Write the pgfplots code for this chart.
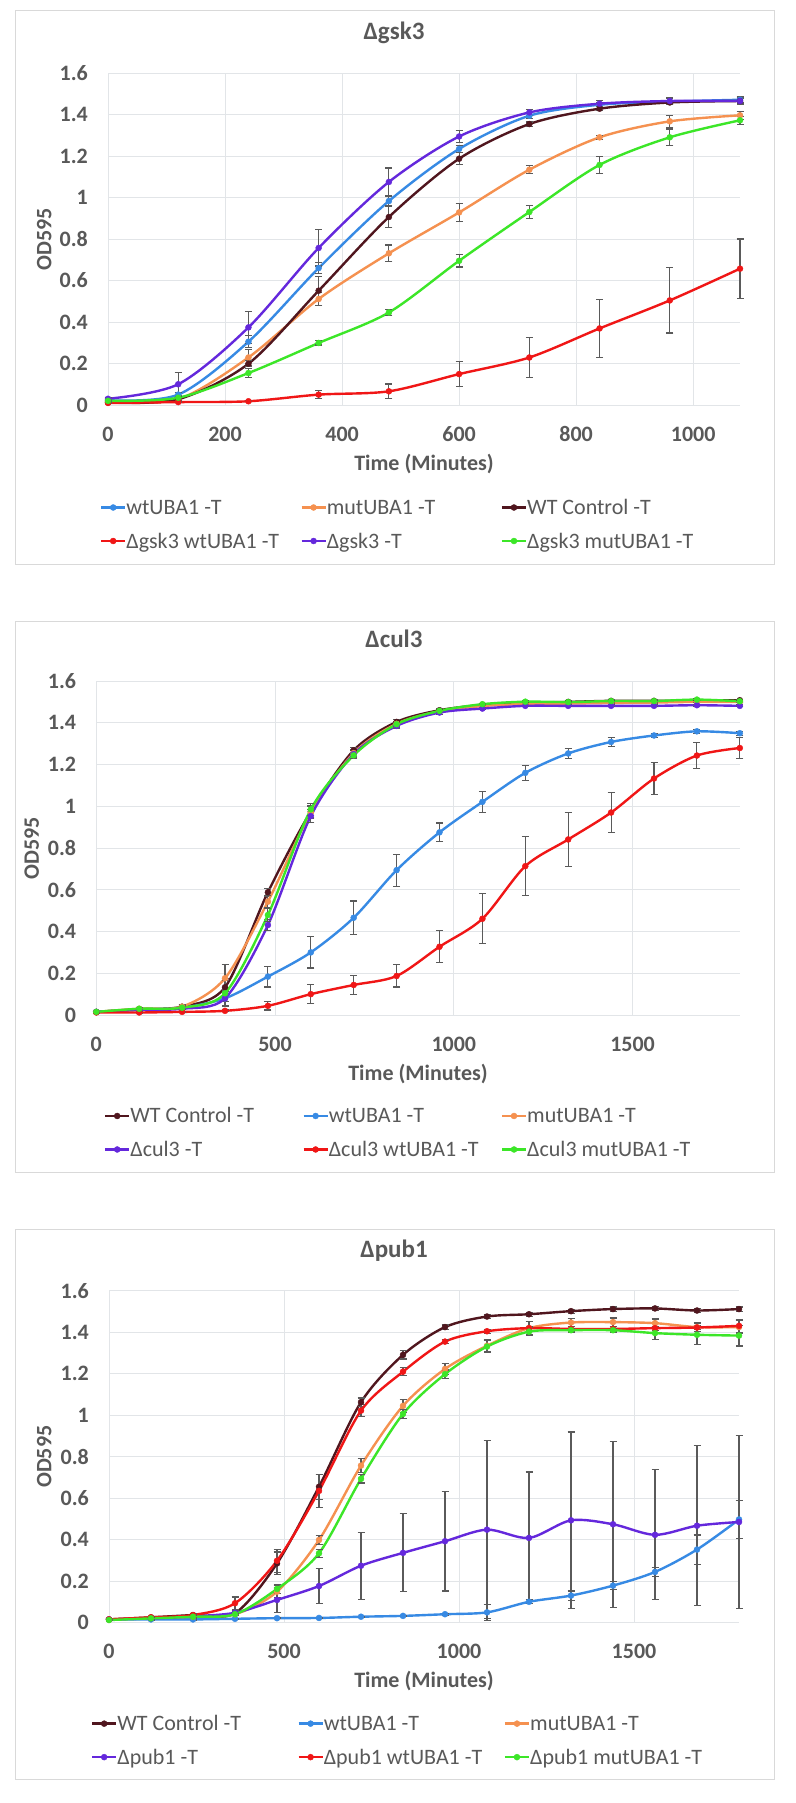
\documentclass[border=0pt]{standalone}
\usepackage{fontspec}
\setmainfont{Carlito}
\usepackage{pgfplots}
\usepackage{pgfplotstable}
\pgfplotsset{compat=1.18}
\definecolor{txt}{RGB}{89,89,89}
\definecolor{gridc}{RGB}{226,229,232}
\definecolor{framec}{RGB}{217,217,217}
\definecolor{errc}{RGB}{90,90,90}
\definecolor{cblue}{RGB}{55,138,228}
\definecolor{corange}{RGB}{245,145,80}
\definecolor{cbrown}{RGB}{80,22,30}
\definecolor{cred}{RGB}{240,22,22}
\definecolor{cpurple}{RGB}{100,40,220}
\definecolor{cgreen}{RGB}{60,230,40}

% Panel 1: dgsk3
\pgfplotstableread{
t wt wte mut mute wtc wtce dwt dwte del dele dmut dmute
0 0.023 0.005 0.015 0.003 0.012 0.003 0.010 0.003 0.030 0.005 0.020 0.003
120 0.050 0.010 0.028 0.005 0.028 0.005 0.014 0.003 0.100 0.055 0.035 0.005
240 0.305 0.030 0.229 0.040 0.199 0.015 0.018 0.003 0.374 0.077 0.154 0.020
360 0.660 0.025 0.511 0.030 0.551 0.070 0.050 0.020 0.757 0.087 0.299 0.010
480 0.983 0.020 0.731 0.040 0.906 0.050 0.066 0.035 1.075 0.067 0.446 0.015
600 1.234 0.015 0.928 0.045 1.187 0.030 0.149 0.060 1.294 0.030 0.695 0.030
720 1.394 0.015 1.134 0.020 1.354 0.010 0.229 0.098 1.410 0.015 0.930 0.030
840 1.447 0.010 1.290 0.010 1.428 0.010 0.369 0.140 1.452 0.015 1.157 0.040
960 1.462 0.015 1.367 0.030 1.458 0.010 0.504 0.157 1.465 0.015 1.290 0.040
1080 1.471 0.015 1.396 0.020 1.465 0.010 0.657 0.143 1.465 0.015 1.372 0.020
}\tabA

% Panel 2: dcul3
\pgfplotstableread{
t wtc wtce wt wte mut mute del dele dwt dwte dmut dmute
0 0.015 0.003 0.015 0.003 0.015 0.003 0.015 0.003 0.012 0.003 0.015 0.003
120 0.028 0.005 0.025 0.005 0.030 0.005 0.025 0.005 0.012 0.003 0.030 0.005
240 0.040 0.008 0.035 0.008 0.040 0.008 0.030 0.005 0.015 0.003 0.035 0.008
360 0.133 0.040 0.080 0.015 0.176 0.064 0.080 0.040 0.020 0.005 0.104 0.060
480 0.588 0.020 0.184 0.050 0.543 0.030 0.431 0.025 0.044 0.020 0.479 0.030
600 0.975 0.030 0.300 0.075 0.970 0.030 0.953 0.030 0.100 0.045 0.985 0.030
720 1.268 0.015 0.466 0.080 1.255 0.015 1.250 0.015 0.144 0.045 1.244 0.015
840 1.404 0.010 0.694 0.077 1.395 0.010 1.385 0.010 0.187 0.053 1.393 0.010
960 1.460 0.008 0.875 0.045 1.455 0.008 1.449 0.008 0.327 0.077 1.457 0.008
1080 1.485 0.005 1.021 0.050 1.480 0.005 1.468 0.005 0.461 0.120 1.489 0.005
1200 1.495 0.005 1.160 0.035 1.490 0.005 1.481 0.005 0.713 0.142 1.501 0.005
1320 1.500 0.005 1.253 0.025 1.492 0.005 1.481 0.005 0.841 0.130 1.499 0.005
1440 1.505 0.005 1.308 0.020 1.495 0.005 1.481 0.005 0.970 0.096 1.504 0.005
1560 1.505 0.005 1.339 0.010 1.497 0.005 1.481 0.005 1.133 0.077 1.504 0.005
1680 1.506 0.005 1.359 0.010 1.500 0.005 1.484 0.005 1.243 0.062 1.511 0.005
1800 1.508 0.005 1.350 0.010 1.500 0.005 1.481 0.005 1.279 0.050 1.503 0.005
}\tabB

% Panel 3: dpub1
\pgfplotstableread{
t wtc wtce wt wte mut mute del dele dwt dwte dmut dmute
0 0.015 0.003 0.015 0.003 0.015 0.003 0.015 0.003 0.015 0.003 0.012 0.003
120 0.025 0.005 0.015 0.003 0.022 0.005 0.020 0.005 0.025 0.005 0.020 0.005
240 0.036 0.005 0.015 0.003 0.028 0.005 0.030 0.005 0.036 0.005 0.028 0.005
360 0.045 0.010 0.018 0.003 0.040 0.005 0.047 0.010 0.093 0.030 0.040 0.005
480 0.285 0.055 0.021 0.003 0.149 0.030 0.109 0.060 0.298 0.055 0.162 0.020
600 0.655 0.060 0.022 0.003 0.398 0.020 0.176 0.085 0.635 0.080 0.334 0.020
720 1.063 0.020 0.028 0.003 0.757 0.035 0.274 0.161 1.022 0.030 0.693 0.020
840 1.291 0.020 0.032 0.003 1.045 0.030 0.336 0.188 1.210 0.020 1.006 0.020
960 1.425 0.010 0.040 0.005 1.223 0.025 0.392 0.240 1.355 0.010 1.198 0.020
1080 1.476 0.010 0.049 0.040 1.335 0.030 0.448 0.430 1.405 0.010 1.331 0.030
1200 1.487 0.010 0.100 0.010 1.420 0.030 0.408 0.318 1.420 0.010 1.403 0.020
1320 1.502 0.010 0.130 0.022 1.447 0.020 0.493 0.426 1.416 0.010 1.410 0.010
1440 1.512 0.010 0.178 0.020 1.449 0.020 0.474 0.400 1.416 0.010 1.410 0.010
1560 1.515 0.010 0.244 0.020 1.444 0.020 0.423 0.314 1.420 0.010 1.396 0.030
1680 1.505 0.010 0.352 0.070 1.425 0.020 0.467 0.386 1.423 0.010 1.388 0.045
1800 1.512 0.010 0.497 0.090 1.425 0.030 0.485 0.418 1.431 0.030 1.384 0.050
}\tabC

\pgfplotsset{
 ser/.style={color=#1, line width=2.4pt, smooth, mark=*, mark size=3pt,
   mark options={solid, fill=#1, line width=0.4pt},
   error bars/.cd, y dir=both, y explicit,
   error bar style={color=errc, line width=1.1pt},
   error mark options={rotate=90, color=errc, line width=1.1pt, mark size=3.5pt}},
 growth/.style={
   scale only axis, clip=false,
   ymin=0, ymax=1.6, ytick={0,0.2,0.4,0.6,0.8,1,1.2,1.4,1.6},
   grid=major, major grid style={draw=gridc, line width=0.9pt},
   axis line style={draw=none}, major tick length=0pt,
   tick label style={font=\fontsize{22}{26}\selectfont\bfseries, text=txt},
   /pgf/number format/assume math mode=true,
   /pgf/number format/1000 sep={},
   xticklabel style={anchor=base, inner sep=0pt, yshift=-36pt},
   yticklabel style={anchor=east, inner sep=0pt, xshift=-20pt},
   label style={font=\fontsize{22}{26}\selectfont\bfseries, text=txt},
   xlabel={Time (Minutes)}, ylabel={OD595},
   xlabel style={at={(axis description cs:0.5,-0.197)}, anchor=base},
   title style={font=\fontsize{25}{30}\selectfont\bfseries, text=txt, anchor=base},
   legend columns=3, legend cell align=left,
   legend style={draw=none, fill=none, inner sep=0pt, outer sep=0pt, anchor=north west,
     font=\fontsize{22}{26}\selectfont, text=txt, row sep=11.5pt,
     nodes={inner sep=0pt, text height=18pt, text depth=4pt}},
   legend image code/.code={\draw[mark repeat=2, mark phase=2, ##1] plot coordinates {(0pt,0pt) (12pt,0pt) (24pt,0pt)};},
 }
}

\begin{document}
\begin{tikzpicture}
\useasboundingbox (0pt,0pt) rectangle (795pt,-1803pt);
\fill[white] (0pt,0pt) rectangle (795pt,-1803pt);
\draw[framec, line width=1pt] (15pt,-11pt) rectangle (774pt,-564pt);
\draw[framec, line width=1pt] (15pt,-621pt) rectangle (774pt,-1172pt);
\draw[framec, line width=1pt] (15pt,-1229pt) rectangle (774pt,-1779pt);

% ---------------- Panel 1 ----------------
\begin{axis}[growth, at={(108pt,-405pt)}, anchor=south west,
  width=632pt, height=332pt, xmin=0, xmax=1080, xtick={0,200,400,600,800,1000},
  title={Δgsk3}, title style={at={(axis description cs:0.4525,1.0828)}},
  ylabel style={at={(axis description cs:-0.1008,0.5)}, anchor=center},
  legend style={at={(axis description cs:-0.0127,-0.2756)}}]
\addplot[ser=cblue] table[x=t, y=wt, y error=wte] {\tabA};
\addlegendentry{\makebox[174pt][l]{wtUBA1 -T}}
\addplot[ser=corange] table[x=t, y=mut, y error=mute] {\tabA};
\addlegendentry{\makebox[174pt][l]{mutUBA1 -T}}
\addplot[ser=cbrown] table[x=t, y=wtc, y error=wtce] {\tabA};
\addlegendentry{\makebox[174pt][l]{WT Control -T}}
\addplot[ser=cred] table[x=t, y=dwt, y error=dwte] {\tabA};
\addlegendentry{\makebox[174pt][l]{Δgsk3 wtUBA1 -T}}
\addplot[ser=cpurple] table[x=t, y=del, y error=dele] {\tabA};
\addlegendentry{\makebox[174pt][l]{Δgsk3 -T}}
\addplot[ser=cgreen] table[x=t, y=dmut, y error=dmute] {\tabA};
\addlegendentry{\makebox[174pt][l]{Δgsk3 mutUBA1 -T}}
\end{axis}

% ---------------- Panel 2 ----------------
\begin{axis}[growth, at={(96.3pt,-1015pt)}, anchor=south west,
  width=643.5pt, height=334pt, xmin=0, xmax=1800, xtick={0,500,1000,1500},
  title={Δcul3}, title style={at={(axis description cs:0.4626,1.082)}},
  ylabel style={at={(axis description cs:-0.1004,0.5)}, anchor=center},
  legend style={at={(axis description cs:0.012,-0.2694)}}]
\addplot[ser=cbrown] table[x=t, y=wtc, y error=wtce] {\tabB};
\addlegendentry{\makebox[172pt][l]{WT Control -T}}
\addplot[ser=cblue] table[x=t, y=wt, y error=wte] {\tabB};
\addlegendentry{\makebox[172pt][l]{wtUBA1 -T}}
\addplot[ser=corange] table[x=t, y=mut, y error=mute] {\tabB};
\addlegendentry{\makebox[172pt][l]{mutUBA1 -T}}
\addplot[ser=cpurple] table[x=t, y=del, y error=dele] {\tabB};
\addlegendentry{\makebox[172pt][l]{Δcul3 -T}}
\addplot[ser=cred] table[x=t, y=dwt, y error=dwte] {\tabB};
\addlegendentry{\makebox[172pt][l]{Δcul3 wtUBA1 -T}}
\addplot[ser=cgreen] table[x=t, y=dmut, y error=dmute] {\tabB};
\addlegendentry{\makebox[172pt][l]{Δcul3 mutUBA1 -T}}
\end{axis}

% ---------------- Panel 3 ----------------
\begin{axis}[growth, at={(109pt,-1622.5pt)}, anchor=south west,
  width=630pt, height=331.7pt, xmin=0, xmax=1800, xtick={0,500,1000,1500},
  title={Δpub1}, title style={at={(axis description cs:0.4524,1.081)}},
  ylabel style={at={(axis description cs:-0.1027,0.5)}, anchor=center},
  legend style={at={(axis description cs:-0.0286,-0.2717)}}]
\addplot[ser=cbrown] table[x=t, y=wtc, y error=wtce] {\tabC};
\addlegendentry{\makebox[180pt][l]{WT Control -T}}
\addplot[ser=cblue] table[x=t, y=wt, y error=wte] {\tabC};
\addlegendentry{\makebox[180pt][l]{wtUBA1 -T}}
\addplot[ser=corange] table[x=t, y=mut, y error=mute] {\tabC};
\addlegendentry{\makebox[180pt][l]{mutUBA1 -T}}
\addplot[ser=cpurple] table[x=t, y=del, y error=dele] {\tabC};
\addlegendentry{\makebox[180pt][l]{Δpub1 -T}}
\addplot[ser=cred] table[x=t, y=dwt, y error=dwte] {\tabC};
\addlegendentry{\makebox[180pt][l]{Δpub1 wtUBA1 -T}}
\addplot[ser=cgreen] table[x=t, y=dmut, y error=dmute] {\tabC};
\addlegendentry{\makebox[180pt][l]{Δpub1 mutUBA1 -T}}
\end{axis}
\end{tikzpicture}
\end{document}
